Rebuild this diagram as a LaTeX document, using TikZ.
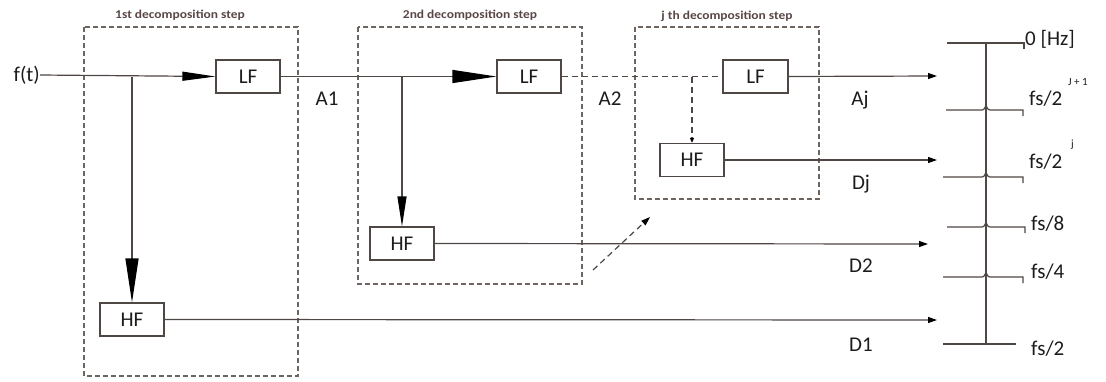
\documentclass[tikz,border=0pt]{standalone}
\usepackage{fontspec}
\setmainfont{Carlito}
\usetikzlibrary{arrows.meta}
\definecolor{ln}{HTML}{4E4744}
\definecolor{dsh}{HTML}{6E6560}
\definecolor{ttlc}{HTML}{5A4646}
\definecolor{tx}{HTML}{1C1C1C}
\begin{document}
\begin{tikzpicture}[x=1pt,y=-1pt,
  filt/.style={draw=ln, line width=1.2pt, fill=white, minimum width=64pt, minimum height=33pt,
    font=\fontsize{21}{21}\selectfont, text=tx, inner sep=0pt},
  stage/.style={draw=dsh, line width=1.3pt, dash pattern=on 5pt off 3pt},
  conn/.style={draw=ln, line width=1.2pt},
  dconn/.style={conn, dash pattern=on 6pt off 4pt},
  lbl/.style={font=\fontsize{21}{21}\selectfont, text=tx, inner sep=0pt},
  suplbl/.style={font=\fontsize{11}{11}\selectfont, text=tx, inner sep=0pt},
  ttl/.style={font=\bfseries\fontsize{12}{12}\selectfont, text=ttlc, inner sep=0pt},
  bigA/.style={-{Triangle[length=44pt,width=13pt,color=black]}},
  medA/.style={-{Triangle[length=33pt,width=9pt,color=black]}},
  smA/.style={-{Triangle[length=9pt,width=6pt,color=black]}},
  tick/.style={draw=ln, line width=1.2pt}
]
\useasboundingbox (0,0) rectangle (1106,381);

% stage boxes
\draw[stage] (84,27) rectangle (298,376);
\draw[stage] (358,27) rectangle (582,284);
\draw[stage] (635,27) rectangle (819,199);
\node[ttl] (t1) at (180,15) {\scalebox{1.12}[1]{1st decomposition step}};
\node[ttl] (t2) at (470,15) {\scalebox{1.12}[1]{2nd decomposition step}};
\node[ttl] (t3) at (727,16) {\scalebox{1.12}[1]{j th decomposition step}};

% filters
\node[filt] (LF1) at (248,76.5) {LF};
\node[filt] (LF2) at (529,76.5) {LF};
\node[filt, minimum width=65pt] (LF3) at (755.5,76.5) {LF};
\node[filt] (HF1) at (132,319.5) {HF};
\node[filt] (HF2) at (402,243.5) {HF};
\node[filt] (HF3) at (692,160) {HF};

% input
\node[lbl, anchor=east] (ft) at (40,75) {f(t)};
\coordinate (s1) at (HF1.north |- LF1.west);
\coordinate (s2) at (HF2.north |- LF2.west);
\coordinate (s3) at (HF3.north |- LF3.west);

\draw[conn, medA] (ft.east) -- (LF1.west);
\draw[conn, bigA] (s1) -- (HF1.north);
\draw[conn, bigA] (LF1.east) -- (LF2.west);
\draw[conn, -{Triangle[length=30pt,width=9pt,color=black]}] (s2) -- (HF2.north);
\draw[dconn] (LF2.east) -- (LF3.west);
\draw[dconn, -{Triangle[length=5pt,width=4pt,color=black]}] (s3) -- (HF3.north);

% outputs
\coordinate (oA) at (937,76);
\coordinate (oDj) at (937,160);
\coordinate (oD2) at (928,244);
\coordinate (oD1) at (937,320);
\draw[conn, smA] (LF3.east) -- (oA);
\draw[conn, smA] (HF3.east) -- (oDj);
\draw[conn, smA] (HF2.east) -- (oD2);
\draw[conn, smA] (HF1.east) -- (oD1);

% dashed continuation arrow
\coordinate (d1) at (593,270);
\coordinate (d2) at (650,217);
\draw[dconn, smA] (d1) -- (d2);

% labels
\node[lbl] (A1) at (327,99) {A1};
\node[lbl] (A2) at (610,99) {A2};
\node[lbl] (Aj) at (860,100) {Aj};
\node[lbl] (Dj) at (861,184) {Dj};
\node[lbl] (D2) at (861,266) {D2};
\node[lbl] (D1) at (861,345) {D1};

% frequency scale
\coordinate (vt) at (986,43);
\coordinate (vb) at (986,344);
\draw[tick] (vt) -- (vb);
\draw[tick] (947,43) -- (1024,43) -- (1024,49);
\foreach \y/\a/\b in {110/946/1023, 177/943/1023, 227/947/1025, 277/943/1023}{
  \draw[tick] (\a,\y) -- (982,\y) .. controls (985,\y) and (985,\y-4) .. (986,\y-4)
     .. controls (987,\y-4) and (987,\y) .. (990,\y) -- (\b,\y) -- (\b,\y+6);
}
\draw[tick] (943,344) -- (1016,344);

\node[lbl, anchor=west] (f0) at (1025,39) {0 [Hz]};
\node[lbl, anchor=west] (fj1) at (1029,99) {fs/2};
\node[suplbl, anchor=west] (sj1) at (1068,82) {J + 1};
\node[lbl, anchor=west] (fj) at (1029,162) {fs/2};
\node[suplbl, anchor=west] (sj) at (1071,145) {j};
\node[lbl, anchor=west] (f8) at (1031,224) {fs/8};
\node[lbl, anchor=west] (f4) at (1031,272) {fs/4};
\node[lbl, anchor=west] (f2) at (1031,349) {fs/2};
\end{tikzpicture}
\end{document}
